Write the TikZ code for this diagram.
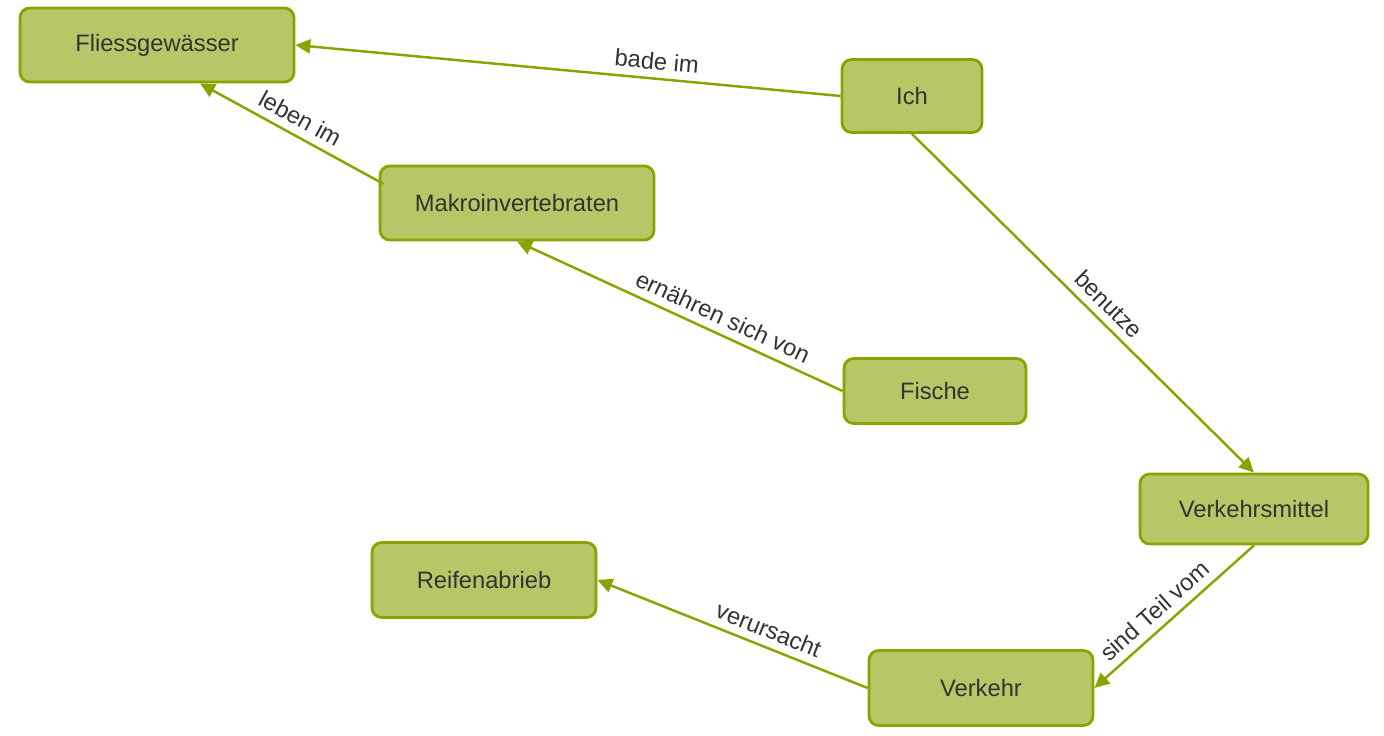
\documentclass[tikz,border=0pt]{standalone}
\usepackage{fontspec}
\setmainfont{Liberation Sans}
\usepackage{tikz}
\usetikzlibrary{arrows.meta,positioning}
\definecolor{cfill}{RGB}{181,199,103}
\definecolor{cline}{RGB}{139,163,0}
\definecolor{ctext}{RGB}{51,51,51}
\tikzset{
  concept/.style={draw=cline, fill=cfill, line width=1.6pt, rounded corners=5.5pt,
                  align=center, text=ctext, font=\fontsize{13.5}{16}\selectfont},
  rel/.style={-{Triangle[length=8.5pt, width=8pt]}, cline, line width=1.4pt},
  lbl/.style={sloped, above=1pt, text=ctext, font=\fontsize{13.5}{16}\selectfont},
}

\begin{document}
\begin{tikzpicture}[x=0.02cm, y=-0.02cm]
    \useasboundingbox (0,0) rectangle (1384,735);
    % concepts
    \node[concept, minimum width=5.48cm, minimum height=1.48cm] (fliess) at (157,45) {Fliessgewässer};
    \node[concept, minimum width=2.80cm, minimum height=1.46cm] (ich) at (912,96) {Ich};
    \node[concept, minimum width=5.48cm, minimum height=1.48cm] (makro) at (517,203) {Makroinvertebraten};
    \node[concept, minimum width=3.64cm, minimum height=1.30cm] (fische) at (935,391) {Fische};
    \node[concept, minimum width=4.56cm, minimum height=1.40cm] (vmittel) at (1254,509) {Verkehrsmittel};
    \node[concept, minimum width=4.48cm, minimum height=1.50cm] (reifen) at (484,580) {Reifenabrieb};
    \node[concept, minimum width=4.48cm, minimum height=1.50cm] (verkehr) at (981,688) {Verkehr};
    % relations
    \draw[rel] (ich.west) -- node[lbl, pos=0.34] {bade im} (fliess.east);
    \draw[rel] ([shift={(5,-19)}]makro.west) -- node[lbl, pos=0.5] {leben im} ([shift={(43,0)}]fliess.south);
    \draw[rel] (fische.west) -- node[lbl, pos=0.39] {ernähren sich von} (makro.south);
    \draw[rel] (ich.south) -- node[lbl, pos=0.54] {benutze} (vmittel.north);
    \draw[rel] (vmittel.south) -- node[lbl, pos=0.55] {sind Teil vom} (verkehr.east);
    \draw[rel] (verkehr.west) -- node[lbl, pos=0.39] {verursacht} (reifen.east);
\end{tikzpicture}
\end{document}
